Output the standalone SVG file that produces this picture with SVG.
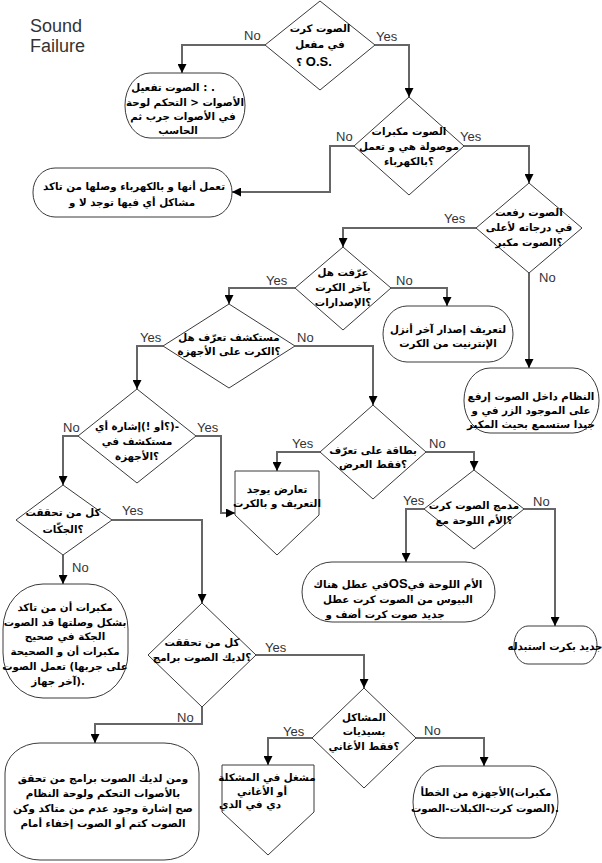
<svg xmlns="http://www.w3.org/2000/svg" width="602" height="863" viewBox="0 0 602 863">
<style>
.sh{fill:#fff;stroke:#3a3a3a;stroke-width:1}
.cn{fill:none;stroke:#666;stroke-width:2;marker-end:url(#ah)}
.ar{font-family:"DejaVu Sans",sans-serif;font-weight:bold;font-size:10.3px;text-anchor:middle;fill:#000;direction:ltr}
.big{font-size:10.4px}
.os{font-family:"Liberation Sans",Arial,sans-serif;font-weight:bold;font-size:13px}
.lb{font-family:"Liberation Sans",Arial,sans-serif;font-size:13px;fill:#333}
.tt{font-family:"Liberation Sans",Arial,sans-serif;font-size:18px;fill:#333}
</style>
<defs>
<marker id="ah" viewBox="0 0 10 10" refX="10" refY="5" markerWidth="9" markerHeight="9" orient="auto" markerUnits="userSpaceOnUse"><path d="M0,0 L10,5 L0,10 z" fill="#000"/></marker>
</defs>
<g id="title"><text class="tt" x="30" y="32">Sound</text><text class="tt" x="30" y="52">Failure</text></g>
<g id="connectors">
<path class="cn" d="M265,45 H182 V73"/>
<path class="cn" d="M375,45 H409 V97"/>
<path class="cn" d="M354,146 H330 V192 H232"/>
<path class="cn" d="M464,146 H529 V183"/>
<path class="cn" d="M476,228 H343 V247"/>
<path class="cn" d="M529,273 V368"/>
<path class="cn" d="M391,288 H447 V306"/>
<path class="cn" d="M295,288 H229 V304"/>
<path class="cn" d="M163,346 H137 V389"/>
<path class="cn" d="M295,346 H373 V405"/>
<path class="cn" d="M320,452 H277 V471"/>
<path class="cn" d="M426,452 H474 V470"/>
<path class="cn" d="M78,436 H63 V485"/>
<path class="cn" d="M196,436 H221 V513 H235"/>
<path class="cn" d="M112,520 H202 V603"/>
<path class="cn" d="M63,555 V584"/>
<path class="cn" d="M424,509 H406 V562"/>
<path class="cn" d="M524,509 H555 V626"/>
<path class="cn" d="M256,655 H364 V688"/>
<path class="cn" d="M202,707 V724 H95 V743"/>
<path class="cn" d="M312,738 H268 V765"/>
<path class="cn" d="M416,738 H484 V766"/>
<text class="lb" x="244" y="40">No</text>
<text class="lb" x="376" y="41">Yes</text>
<text class="lb" x="336" y="141">No</text>
<text class="lb" x="460" y="141">Yes</text>
<text class="lb" x="444" y="223">Yes</text>
<text class="lb" x="539" y="282">No</text>
<text class="lb" x="396" y="285">No</text>
<text class="lb" x="266" y="285">Yes</text>
<text class="lb" x="140" y="342">Yes</text>
<text class="lb" x="297" y="342">No</text>
<text class="lb" x="292" y="448">Yes</text>
<text class="lb" x="429" y="448">No</text>
<text class="lb" x="63" y="432">No</text>
<text class="lb" x="197" y="432">Yes</text>
<text class="lb" x="122" y="515">Yes</text>
<text class="lb" x="72" y="572">No</text>
<text class="lb" x="403" y="505">Yes</text>
<text class="lb" x="533" y="506">No</text>
<text class="lb" x="265" y="652">Yes</text>
<text class="lb" x="177" y="722">No</text>
<text class="lb" x="283" y="736">Yes</text>
<text class="lb" x="424" y="735">No</text>
</g>
<g id="d1"><polygon class="sh" points="320,1 375,45 320,90 265,45"/>
<text class="ar" x="320" y="32">الصوت كرت</text>
<text class="ar" x="320" y="48">في مفعل</text>
<text class="ar" x="314" y="66">؟ <tspan class="os">O.S.</tspan></text></g>
<g id="t1"><rect class="sh" x="125" y="73" width="120" height="65" rx="25" ry="32"/>
<text class="ar" x="173" y="91">الصوت تفعيل : .</text>
<text class="ar" x="185" y="106">الأصوات &lt; التحكم لوحة</text>
<text class="ar" x="183" y="120">في الأصوات جرب ثم</text>
<text class="ar" x="178" y="134">الحاسب</text></g>
<g id="t2"><rect class="sh" x="33" y="168" width="199" height="49" rx="22" ry="24"/>
<text class="ar" x="134" y="190">تعمل أنها و بالكهرباء وصلها من تاكد</text>
<text class="ar" x="132" y="206">مشاكل أي فيها توجد لا و</text></g>
<g id="d2"><polygon class="sh" points="409,97 464,146 409,195 354,146"/>
<text class="ar" x="409" y="135">الصوت مكبرات</text>
<text class="ar" x="409" y="150">موصولة هي و تعمل</text>
<text class="ar" x="409" y="165">؟بالكهرباء</text></g>
<g id="d3"><polygon class="sh" points="529,183 582,228 529,273 476,228"/>
<text class="ar" x="529" y="216">الصوت رفعت</text>
<text class="ar" x="529" y="231">في درجاته لأعلى</text>
<text class="ar" x="529" y="246">؟الصوت مكبر</text></g>
<g id="d4"><polygon class="sh" points="343,247 391,288 343,330 295,288"/>
<text class="ar" x="343" y="276">عرّفت هل</text>
<text class="ar" x="343" y="291">بآخر الكرت</text>
<text class="ar" x="343" y="306">؟الإصدارات</text></g>
<g id="t3"><rect class="sh" x="383" y="306" width="130" height="56" rx="24" ry="28"/>
<text class="ar" x="448" y="333">لتعريف إصدار آخر أنزل</text>
<text class="ar" x="448" y="347">الإنترنيت من الكرت</text></g>
<g id="t4"><rect class="sh" x="464" y="368" width="135" height="65" rx="26" ry="32"/>
<text class="ar" x="531" y="400">النظام داخل الصوت إرفع</text>
<text class="ar" x="531" y="414">على الموجود الزر في و</text>
<text class="ar" x="531" y="428">جيدا ستسمع بحيث المكبر</text></g>
<g id="d5"><polygon class="sh" points="229,304 295,346 229,388 163,346"/>
<text class="ar" x="229" y="341">مستكشف تعرّف هل</text>
<text class="ar" x="229" y="355">؟الكرت على الأجهزة</text></g>
<g id="d6"><polygon class="sh" points="373,405 426,452 373,499 320,452"/>
<text class="ar" x="373" y="454">بطاقة على تعرّف</text>
<text class="ar" x="373" y="468">؟فقط العرض</text></g>
<g id="p1"><polygon class="sh" points="235,471 319,471 319,515 277,555 235,515"/>
<text class="ar" x="277" y="493">تعارض يوجد</text>
<text class="ar" x="277" y="507">التعريف و بالكرت</text></g>
<g id="d7"><polygon class="sh" points="137,389 196,436 137,483 78,436"/>
<text class="ar" x="137" y="430">؟أو !)إشارة أي)-</text>
<text class="ar" x="137" y="445">مستكشف في</text>
<text class="ar" x="137" y="460">؟الأجهزة</text></g>
<g id="d8"><polygon class="sh" points="63,485 112,520 63,555 16,520"/>
<text class="ar" x="63" y="516">كل من تحققت</text>
<text class="ar" x="63" y="533">؟الجكّات</text></g>
<g id="t5"><rect class="sh" x="3" y="584" width="125" height="114" rx="40" ry="45"/>
<text class="ar" x="65" y="611">مكبرات أن من تاكد</text>
<text class="ar" x="65" y="626">بشكل وصلتها قد الصوت</text>
<text class="ar" x="65" y="640">الجكة في صحيح</text>
<text class="ar" x="65" y="655">مكبرات أن و الصحيحة</text>
<text class="ar" x="65" y="670">على جربها) تعمل الصوت</text>
<text class="ar" x="58" y="685">آخر جهاز).</text></g>
<g id="d9"><polygon class="sh" points="202,603 256,655 202,707 148,655"/>
<text class="ar" x="202" y="646">كل من تحققت</text>
<text class="ar" x="202" y="661">؟لديك الصوت برامج</text></g>
<g id="t6"><rect class="sh" x="5" y="743" width="194" height="117" rx="35" ry="30"/>
<text class="ar big" x="103" y="782">ومن لديك الصوت برامج من تحقق</text>
<text class="ar big" x="103" y="797">بالأصوات التحكم ولوحة النظام</text>
<text class="ar big" x="103" y="812">صح إشارة وجود عدم من متاكد وكن</text>
<text class="ar big" x="103" y="827">الصوت كتم أو الصوت إخفاء أمام</text></g>
<g id="d10"><polygon class="sh" points="364,688 416,738 364,788 312,738"/>
<text class="ar" x="364" y="721">المشاكل</text>
<text class="ar" x="364" y="735">بسيديات</text>
<text class="ar" x="364" y="750">؟فقط الأغاني</text></g>
<g id="p2"><polygon class="sh" points="222,765 314,765 314,812 268,855 222,812"/>
<text class="ar" x="267" y="781">مشغل في المشكلة</text>
<text class="ar" x="262" y="795">أو الأغاني</text>
<text class="ar" x="250" y="808">دي في الدي</text></g>
<g id="t7"><rect class="sh" x="413" y="766" width="145" height="72" rx="28" ry="36"/>
<text class="ar" x="486" y="796">مكبرات)الأجهزة من الخطأ</text>
<text class="ar" x="485" y="812">الصوت كرت-الكبلات-الصوت).</text></g>
<g id="d11"><polygon class="sh" points="474,470 524,509 474,549 424,509"/>
<text class="ar" x="474" y="509">مدمج الصوت كرت</text>
<text class="ar" x="474" y="524">؟الأم اللوحة مع</text></g>
<g id="t8"><rect class="sh" x="302" y="562" width="193" height="60" rx="30" ry="30"/>
<text class="ar" x="398" y="588">في عطل هناك<tspan class="os">OS</tspan>الأم اللوحة في</text>
<text class="ar" x="398" y="603">البيوس من الصوت كرت عطل</text>
<text class="ar" x="385" y="618">جديد صوت كرت أضف و</text></g>
<g id="t9"><rect class="sh" x="514" y="626" width="83" height="38" rx="14" ry="19"/>
<text class="ar" x="555" y="650">جديد بكرت استبدله</text></g>
</svg>
